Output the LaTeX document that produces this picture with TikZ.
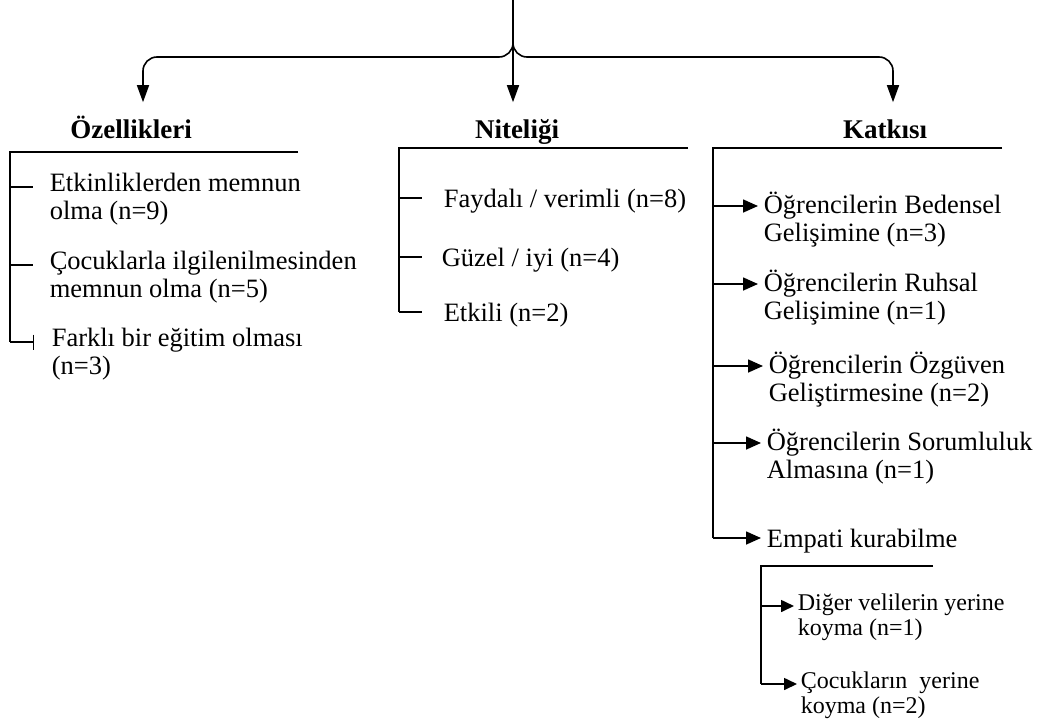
\documentclass[tikz,border=0pt]{standalone}
\usepackage{fontspec}
\setmainfont{Liberation Serif}
\usetikzlibrary{arrows.meta,positioning,calc}

\begin{document}
\begin{tikzpicture}[
    x=1pt,y=-1pt,line width=1.6pt,
    head/.style={font=\fontsize{27}{30}\selectfont\bfseries, inner sep=0pt, anchor=base, text height=23pt, text depth=6pt},
    item/.style={font=\fontsize{26.5}{28.5}\selectfont, align=left, anchor=north west, inner sep=0pt,
      execute at begin node={\rule{0pt}{24pt}}},
    subitem/.style={font=\fontsize{24}{25}\selectfont, align=left, anchor=north west, inner sep=0pt,
      execute at begin node={\rule{0pt}{22pt}}},
    down/.style={-{Triangle[length=17pt,width=12pt]}, shorten >=12pt},
    arr/.style={-{Triangle[length=15pt,width=13pt]}, shorten >=5pt},
    subarr/.style={-{Triangle[length=13pt,width=12pt]}, shorten >=3pt},
    stopbar/.style={-{Bar[width=15pt,line width=1.2pt]}}
  ]
  \useasboundingbox (0,0) rectangle (1043,720);

  % top brace
  \coordinate (root) at (513,0);
  \coordinate (bar) at (0,57);
  \node[head] (ozh) at (131,138) {Özellikleri};
  \node[head] (nith) at (517,138) {Niteliği};
  \node[head] (kath) at (885,138) {Katkısı};
  \draw[down, rounded corners=14pt] (root) -- (root |- bar) -| ([xshift=12pt]ozh.north);
  \draw[down, rounded corners=14pt] (root) -- (root |- bar) -| ([xshift=8pt]kath.north);
  \draw[down] (root) -- (root |- nith.north);

  % Ozellikleri
  \coordinate (ozTop) at (10,152);
  \coordinate (ozEnd) at (298,152);
  \node[item] (oz1) at (49,172) {Etkinliklerden memnun\\olma (n=9)};
  \node[item] (oz2) at (49,250) {Çocuklarla ilgilenilmesinden\\memnun olma (n=5)};
  \node[item] (oz3) at (51,327) {Farklı bir eğitim olması\\(n=3)};
  \draw (ozEnd) -- (ozTop) -- ([yshift=-15pt]oz3.north west -| ozTop);
  \foreach \n in {oz1,oz2} {\draw ([yshift=-15pt]\n.north west -| ozTop) -- ++(23,0);}
  \draw[stopbar] ([yshift=-15pt]oz3.north west -| ozTop) -- ++(24,0);

  % Niteligi
  \coordinate (nitTop) at (399,148);
  \coordinate (nitEnd) at (688,148);
  \node[item] (nt1) at (443,183) {Faydalı / verimli (n=8)};
  \node[item] (nt2) at (441,242) {Güzel / iyi (n=4)};
  \node[item] (nt3) at (443,297) {Etkili (n=2)};
  \draw (nitEnd) -- (nitTop) -- ([yshift=-15pt]nt3.north west -| nitTop);
  \foreach \n in {nt1,nt2,nt3} {\draw ([yshift=-15pt]\n.north west -| nitTop) -- ++(23,0);}

  % Katkisi
  \coordinate (katTop) at (713,148);
  \coordinate (katEnd) at (1002,148);
  \node[item] (k1) at (763,191) {Öğrencilerin Bedensel\\Gelişimine (n=3)};
  \node[item] (k2) at (763,269) {Öğrencilerin Ruhsal\\Gelişimine (n=1)};
  \node[item] (k3) at (768,351) {Öğrencilerin Özgüven\\Geliştirmesine (n=2)};
  \node[item] (k4) at (766,428) {Öğrencilerin Sorumluluk\\Almasına (n=1)};
  \node[item] (k5) at (766,523) {Empati kurabilme};
  \draw (katEnd) -- (katTop) -- ([yshift=-15pt]k5.north west -| katTop);
  \foreach \n in {k1,k2,k3,k4,k5} {\draw[arr] ([yshift=-15pt]\n.north west -| katTop) -- ([yshift=-15pt]\n.north west);}

  % Empati
  \coordinate (subTop) at (761,566);
  \coordinate (subEnd) at (933,566);
  \node[subitem] (s1) at (797,593) {Diğer velilerin yerine\\koyma (n=1)};
  \node[subitem] (s2) at (800,671) {Çocukların~~yerine\\koyma (n=2)};
  \draw (subEnd) -- (subTop) -- ([yshift=-13pt]s2.north west -| subTop);
  \foreach \n in {s1,s2} {\draw[subarr] ([yshift=-13pt]\n.north west -| subTop) -- ([yshift=-13pt]\n.north west);}
\end{tikzpicture}
\end{document}
